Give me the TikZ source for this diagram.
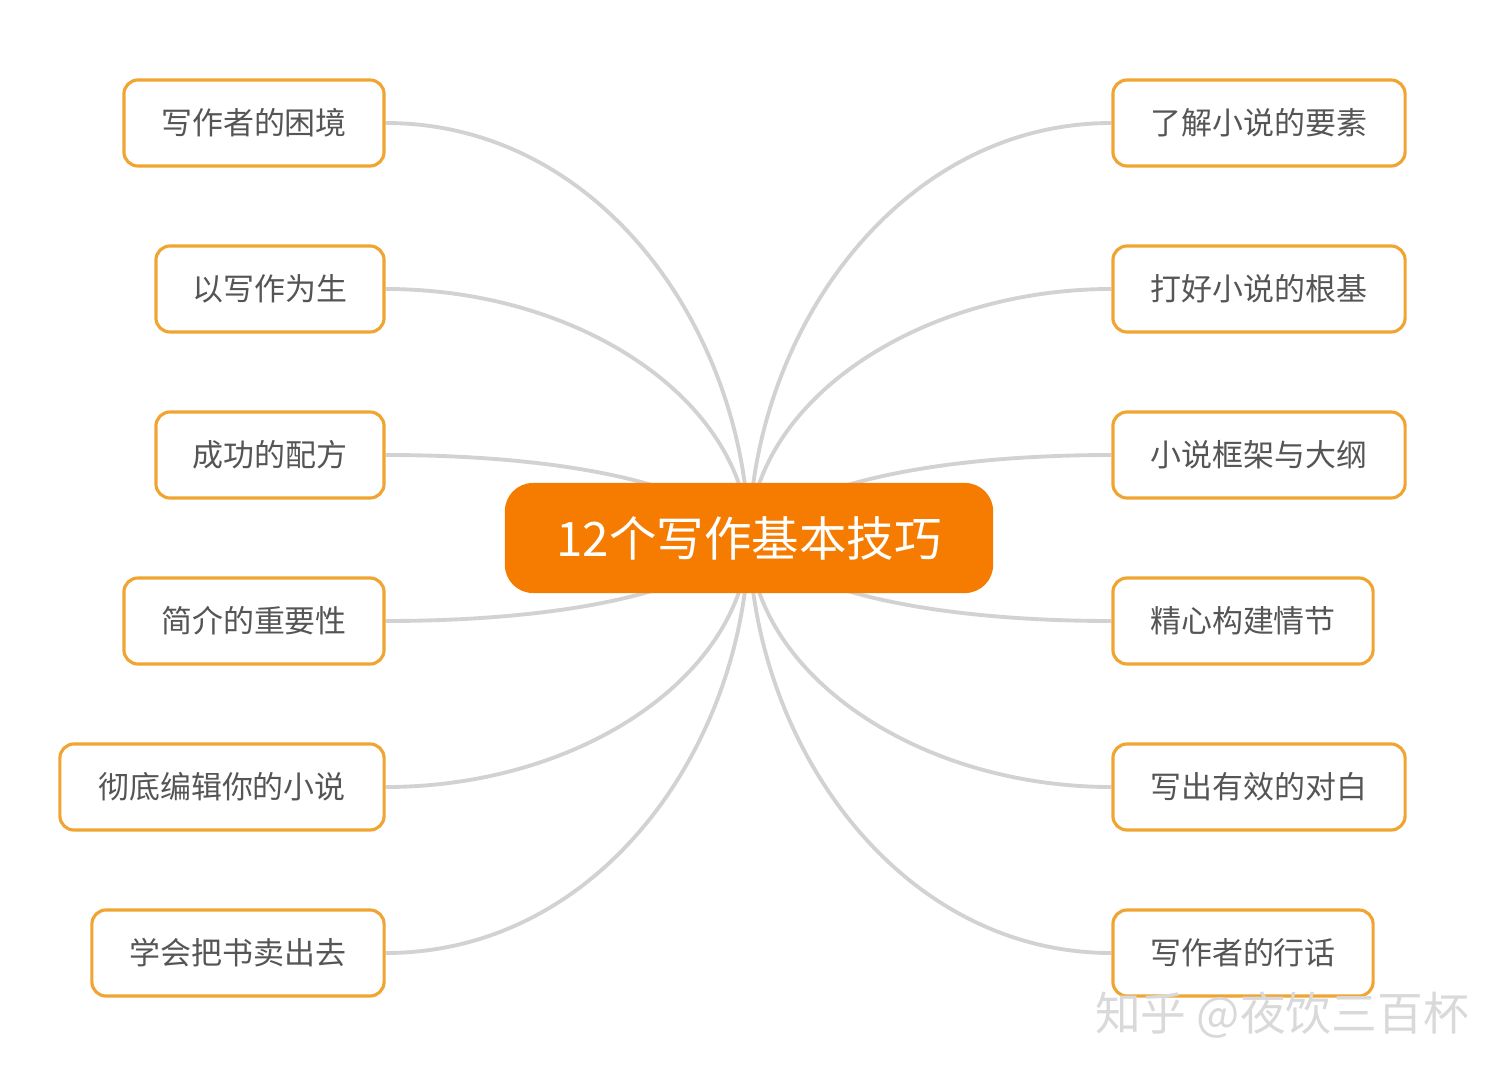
\documentclass[tikz,border=0pt]{standalone}
\usepackage{fontspec}
\setmainfont{Noto Sans CJK SC}
\usetikzlibrary{positioning}
\pgfdeclarelayer{background}
\pgfsetlayers{background,main}
\definecolor{topicorange}{RGB}{245,124,0}
\definecolor{leafborder}{RGB}{240,165,50}
\definecolor{leaftext}{RGB}{85,85,85}
\definecolor{linkgrey}{RGB}{210,210,210}

\begin{document}
\begin{tikzpicture}[x=0.01cm, y=-0.01cm]
            \tikzstyle{leaf} = [rectangle, rounded corners=4pt, draw=leafborder, line width=0.9pt, fill=white, minimum height=0.86cm, text=leaftext, font=\fontsize{8.8}{10}\selectfont, inner sep=0pt]
            \tikzstyle{link} = [linkgrey, line width=1.1pt]
            \useasboundingbox (0,0) rectangle (1506,1076);

            \node[rectangle, rounded corners=8pt, fill=topicorange, text=white, minimum width=4.88cm, minimum height=1.1cm, font=\fontsize{13.5}{15}\selectfont] (topic) at (749,538) {12个写作基本技巧};

            \node[leaf, minimum width=2.60cm] (l1) at (254,123) {写作者的困境};
            \node[leaf, minimum width=2.28cm] (l2) at (270,289) {以写作为生};
            \node[leaf, minimum width=2.28cm] (l3) at (270,455) {成功的配方};
            \node[leaf, minimum width=2.60cm] (l4) at (254,621) {简介的重要性};
            \node[leaf, minimum width=3.24cm] (l5) at (222,787) {彻底编辑你的小说};
            \node[leaf, minimum width=2.92cm] (l6) at (238,953) {学会把书卖出去};

            \node[leaf, minimum width=2.92cm] (r1) at (1259,123) {了解小说的要素};
            \node[leaf, minimum width=2.92cm] (r2) at (1259,289) {打好小说的根基};
            \node[leaf, minimum width=2.92cm] (r3) at (1259,455) {小说框架与大纲};
            \node[leaf, minimum width=2.60cm] (r4) at (1243,621) {精心构建情节};
            \node[leaf, minimum width=2.92cm] (r5) at (1259,787) {写出有效的对白};
            \node[leaf, minimum width=2.60cm] (r6) at (1243,953) {写作者的行话};

            \begin{pgfonlayer}{background}
            \draw[link] (l1.east) .. controls (600,123) and (745,330) .. (topic.center);
            \draw[link] (l2.east) .. controls (580,289) and (745,400) .. (topic.center);
            \draw[link] (l3.east) .. controls (550,455) and (700,480) .. (topic.center);
            \draw[link] (l4.east) .. controls (550,621) and (700,596) .. (topic.center);
            \draw[link] (l5.east) .. controls (580,787) and (745,676) .. (topic.center);
            \draw[link] (l6.east) .. controls (600,953) and (745,746) .. (topic.center);
            \draw[link] (r1.west) .. controls (900,123) and (753,330) .. (topic.center);
            \draw[link] (r2.west) .. controls (920,289) and (753,400) .. (topic.center);
            \draw[link] (r3.west) .. controls (950,455) and (800,480) .. (topic.center);
            \draw[link] (r4.west) .. controls (950,621) and (800,596) .. (topic.center);
            \draw[link] (r5.west) .. controls (920,787) and (753,676) .. (topic.center);
            \draw[link] (r6.west) .. controls (900,953) and (753,746) .. (topic.center);
            \end{pgfonlayer}

            \node[text=black!15, font=\fontsize{13}{15}\selectfont] (mark) at (1282,1015) {知乎 @夜饮三百杯};
        \end{tikzpicture}
\end{document}
